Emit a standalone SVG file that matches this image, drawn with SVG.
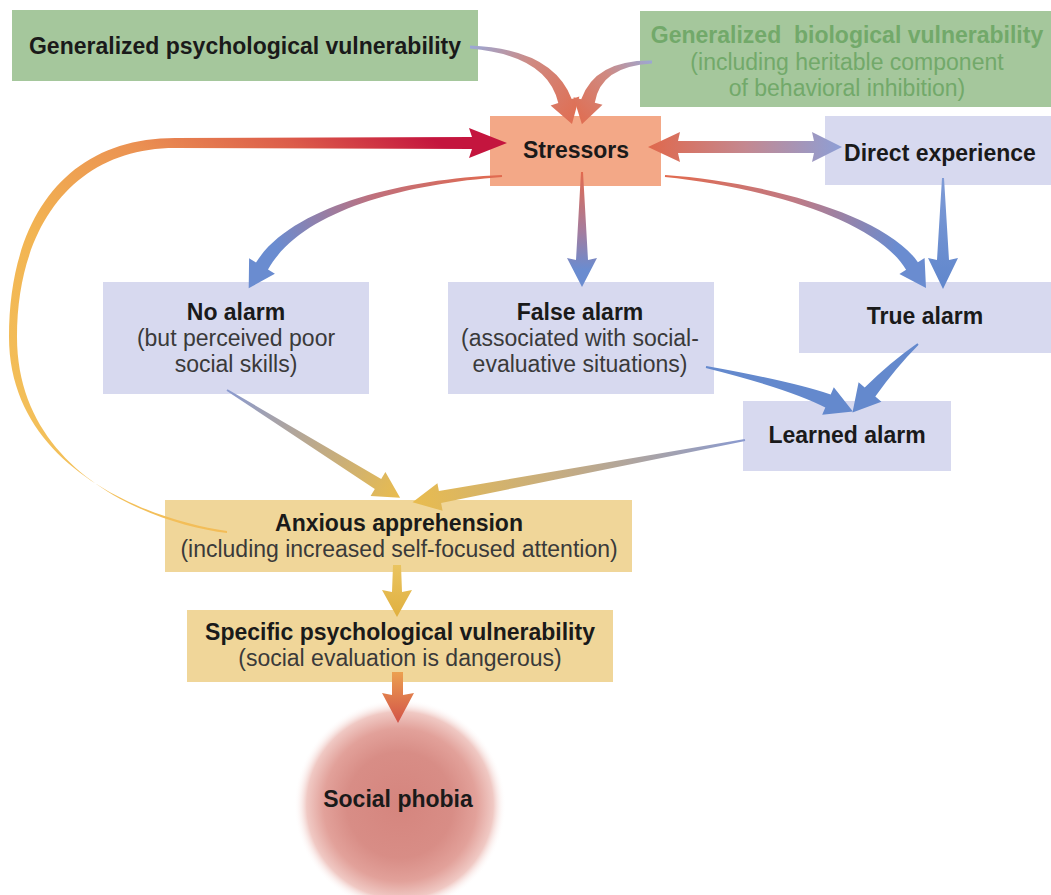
<svg xmlns="http://www.w3.org/2000/svg" width="1051" height="895" viewBox="0 0 1051 895">
  <defs>
    <style>
      .title { font-family: "Liberation Sans", Arial, sans-serif; font-size: 23px; font-weight: bold; fill: #1a1a1a; text-anchor: middle; }
      .sub { font-family: "Liberation Sans", Arial, sans-serif; font-size: 23px; fill: #3a3a3a; text-anchor: middle; }
      .bio { fill: #72a96a; }
      .green { fill: #a5c79c; }
      .lav { fill: #d7d9ef; }
      .salmon { fill: #f3a887; }
      .tan { fill: #f0d699; }
      .blue { fill: #6489cd; }
    </style>
    <!-- warm-to-cool gradients for the arrows leaving the stressors -->
    <linearGradient id="gPsych" gradientUnits="userSpaceOnUse" x1="470" y1="47" x2="572" y2="124">
      <stop offset="0" stop-color="#9aa8d6"/>
      <stop offset="0.45" stop-color="#cf8a82"/>
      <stop offset="1" stop-color="#e06e52"/>
    </linearGradient>
    <linearGradient id="gBio" gradientUnits="userSpaceOnUse" x1="652" y1="60" x2="582" y2="124">
      <stop offset="0" stop-color="#9aa8d6"/>
      <stop offset="0.45" stop-color="#cf8a82"/>
      <stop offset="1" stop-color="#e06e52"/>
    </linearGradient>
    <linearGradient id="gLoop" gradientUnits="userSpaceOnUse" x1="150" y1="530" x2="480" y2="130">
      <stop offset="0" stop-color="#f3c05a"/>
      <stop offset="0.3" stop-color="#f2b452"/>
      <stop offset="0.55" stop-color="#eb9252"/>
      <stop offset="0.75" stop-color="#dc5c4a"/>
      <stop offset="0.93" stop-color="#c4153e"/>
    </linearGradient>
    <linearGradient id="gDirect" gradientUnits="userSpaceOnUse" x1="648" y1="0" x2="842" y2="0">
      <stop offset="0" stop-color="#e0684c"/>
      <stop offset="0.5" stop-color="#c48890"/>
      <stop offset="1" stop-color="#8d9fd6"/>
    </linearGradient>
    <linearGradient id="gNo" gradientUnits="userSpaceOnUse" x1="502" y1="176" x2="249" y2="288">
      <stop offset="0" stop-color="#e26a4e"/>
      <stop offset="0.45" stop-color="#c0707c"/>
      <stop offset="0.85" stop-color="#6a8cd0"/>
    </linearGradient>
    <linearGradient id="gFalse" gradientUnits="userSpaceOnUse" x1="0" y1="172" x2="0" y2="287">
      <stop offset="0" stop-color="#e26a4e"/>
      <stop offset="0.5" stop-color="#a67c9c"/>
      <stop offset="0.85" stop-color="#6a8cd0"/>
    </linearGradient>
    <linearGradient id="gTrue" gradientUnits="userSpaceOnUse" x1="665" y1="176" x2="926" y2="288">
      <stop offset="0" stop-color="#e26a4e"/>
      <stop offset="0.45" stop-color="#c07a84"/>
      <stop offset="0.85" stop-color="#6a8cd0"/>
    </linearGradient>
    <linearGradient id="gDown" gradientUnits="userSpaceOnUse" x1="0" y1="178" x2="0" y2="290">
      <stop offset="0" stop-color="#7f9bd6"/>
      <stop offset="1" stop-color="#5f86cc"/>
    </linearGradient>
    <linearGradient id="gNoAnx" gradientUnits="userSpaceOnUse" x1="227" y1="390" x2="400" y2="498">
      <stop offset="0" stop-color="#8a9ad0"/>
      <stop offset="0.5" stop-color="#bca98c"/>
      <stop offset="1" stop-color="#e9bc4e"/>
    </linearGradient>
    <linearGradient id="gLearnAnx" gradientUnits="userSpaceOnUse" x1="745" y1="440" x2="412" y2="502">
      <stop offset="0" stop-color="#8a9ad0"/>
      <stop offset="0.5" stop-color="#c0aa88"/>
      <stop offset="1" stop-color="#e9bc4e"/>
    </linearGradient>
    <linearGradient id="gAnxSpec" gradientUnits="userSpaceOnUse" x1="0" y1="565" x2="0" y2="617">
      <stop offset="0" stop-color="#eac460"/>
      <stop offset="1" stop-color="#e0b040"/>
    </linearGradient>
    <linearGradient id="gSpecPhobia" gradientUnits="userSpaceOnUse" x1="0" y1="672" x2="0" y2="723">
      <stop offset="0" stop-color="#eca050"/>
      <stop offset="1" stop-color="#d25248"/>
    </linearGradient>
    <!-- soft-edged glow for the outcome -->
    <radialGradient id="phobiaGlow" gradientUnits="userSpaceOnUse" cx="400" cy="805" r="106">
      <stop offset="0" stop-color="#d5857e"/>
      <stop offset="0.5" stop-color="#d88d86"/>
      <stop offset="0.72" stop-color="#e2a19a"/>
      <stop offset="0.88" stop-color="#f0c9c4"/>
      <stop offset="1" stop-color="#ffffff" stop-opacity="0"/>
    </radialGradient>
  </defs>

  <rect width="1051" height="895" fill="#ffffff"/>

  <g id="node-general-psych">
    <rect class="green" x="12" y="10" width="466" height="71"/>
    <text class="title" x="245" y="54">Generalized psychological vulnerability</text>
  </g>

  <g id="node-general-bio">
    <rect class="green" x="640" y="11" width="411" height="96"/>
    <text class="title bio" x="847" y="43" style="white-space:pre">Generalized  biological vulnerability</text>
    <text class="sub bio" x="847" y="70">(including heritable component</text>
    <text class="sub bio" x="847" y="96">of behavioral inhibition)</text>
  </g>

  <g id="node-stressors">
    <rect class="salmon" x="490" y="116" width="171" height="70"/>
    <text class="title" x="576" y="158">Stressors</text>
  </g>

  <g id="node-direct">
    <rect class="lav" x="825" y="116" width="226" height="69"/>
    <text class="title" x="940" y="161">Direct experience</text>
  </g>

  <g id="node-no-alarm">
    <rect class="lav" x="103" y="282" width="266" height="112"/>
    <text class="title" x="236" y="320">No alarm</text>
    <text class="sub" x="236" y="346">(but perceived poor</text>
    <text class="sub" x="236" y="372">social skills)</text>
  </g>

  <g id="node-false-alarm">
    <rect class="lav" x="448" y="282" width="266" height="112"/>
    <text class="title" x="580" y="320">False alarm</text>
    <text class="sub" x="580" y="346">(associated with social-</text>
    <text class="sub" x="580" y="372">evaluative situations)</text>
  </g>

  <g id="node-true-alarm">
    <rect class="lav" x="799" y="282" width="252" height="71"/>
    <text class="title" x="925" y="324">True alarm</text>
  </g>

  <g id="node-learned-alarm">
    <rect class="lav" x="743" y="401" width="208" height="70"/>
    <text class="title" x="847" y="443">Learned alarm</text>
  </g>

  <g id="node-anxious">
    <rect class="tan" x="165" y="500" width="467" height="72"/>
    <text class="title" x="399" y="531">Anxious apprehension</text>
    <text class="sub" x="399" y="557">(including increased self-focused attention)</text>
  </g>

  <g id="node-specific">
    <rect class="tan" x="187" y="610" width="426" height="72"/>
    <text class="title" x="400" y="640">Specific psychological vulnerability</text>
    <text class="sub" x="400" y="666">(social evaluation is dangerous)</text>
  </g>

  <g id="node-social-phobia">
    <circle cx="400" cy="805" r="106" fill="url(#phobiaGlow)"/>
    <text class="title" x="398" y="807">Social phobia</text>
  </g>

  <g id="connectors">
    <!-- vulnerabilities into stressors -->
    <path fill="url(#gPsych)" d="M469.9,48.5 Q547.4,55.3 558.3,103.1 L550.6,105.4 L572,124 L579.4,96.6 L571.7,98.9 Q552.6,48.7 470.1,45.5 Z"/>
    <path fill="url(#gBio)" d="M652,60.5 Q595.4,59.7 581.2,99.2 L573.5,97.2 L581.9,124.2 L602.5,104.8 L594.8,102.8 Q600.6,66.3 652,63.5 Z"/>

    <!-- feedback loop from anxious apprehension back to stressors -->
    <path fill="url(#gLoop)" d="M227,531 C149,520 9,468 9,337 C9,216 68,138 175,138 L472,137 L469,128 L507,143 L469,158 L472,149 L175,148 C76,148 17,224 17,337 C17,472 152,524 227,533 Z"/>

    <!-- stressors <-> direct experience -->
    <path fill="url(#gDirect)" d="M648,147 L680,132 L678,141 L814,141 L812,132 L842,147 L812,162 L814,153 L678,153 L680,162 Z"/>

    <!-- stressors to the three alarm types -->
    <path fill="url(#gNo)" d="M501.9,175 C399.85,179.5 291.7,206.4 256,262.4 L249.1,258.3 L248.7,288.3 L274.9,273.7 L268,269.6 C300.3,211.6 400.15,184.5 502.1,177 Z"/>
    <path fill="url(#gFalse)" d="M581,172 L576,260 L567,258 L582,287 L597,258 L588,260 L583,172 Z"/>
    <path fill="url(#gTrue)" d="M664.9,177 C759.8,186.5 875.8,218.7 906.1,269.8 L899.4,274.1 L926,287.9 L924.6,257.9 L917.9,262.2 C884.2,213.3 760.2,181.5 665.1,175 Z"/>

    <!-- direct experience to true alarm -->
    <path fill="url(#gDown)" d="M942,178 L937,260 L928,258 L943,289 L958,258 L949,260 L944,178 Z"/>

    <!-- alarms feeding learned alarm -->
    <path class="blue" d="M705.8,368 Q788.8,388.8 825.3,407.5 L822.2,414.8 L852.9,411.5 L833.8,387.2 L830.7,394.5 Q791.2,381.2 706.2,366 Z"/>
    <path class="blue" d="M917.4,343.2 Q890.2,362.2 864.7,387.5 L858.6,382.3 L852.5,412.5 L881.4,401.7 L875.3,396.5 Q895.8,367.8 918.6,344.8 Z"/>

    <!-- into anxious apprehension -->
    <path fill="url(#gNoAnx)" d="M226.5,390.8 L374.8,489.1 L370.6,495.9 L400.1,497.7 L385.4,472.1 L381.2,478.9 L227.5,389.2 Z"/>
    <path fill="url(#gLearnAnx)" d="M744.8,439 L438.9,491.1 L437.4,483.2 L412.5,502.2 L442.6,510.8 L441.1,502.9 L745.2,441 Z"/>

    <!-- downward chain -->
    <path fill="url(#gAnxSpec)" d="M393,565 L392,592 L382,590 L397,617 L412,590 L402,592 L401,565 Z"/>
    <path fill="url(#gSpecPhobia)" d="M392,672 L392,695 L382,693 L398,723 L414,693 L403,695 L403,672 Z"/>
  </g>
</svg>
